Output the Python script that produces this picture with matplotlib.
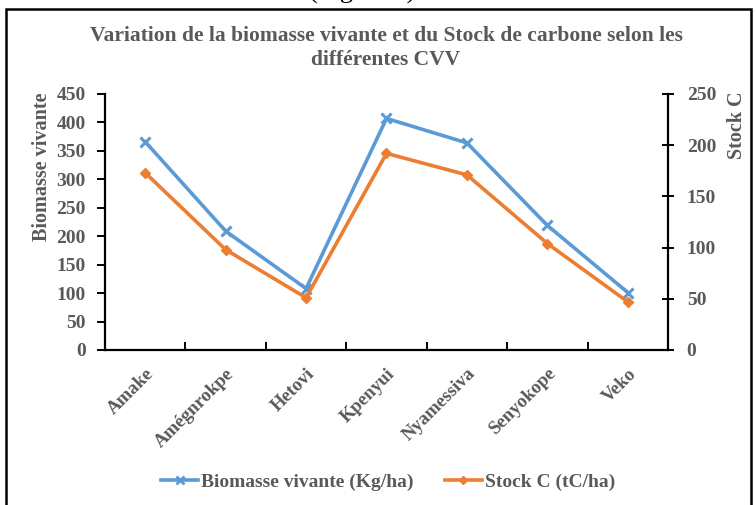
import matplotlib
matplotlib.use("Agg")
import matplotlib.pyplot as plt
from matplotlib.patches import Rectangle
from matplotlib.lines import Line2D

categories = ["Amake", "Amégnrokpe", "Hetovi", "Kpenyui", "Nyamessiva", "Senyokope", "Veko"]
biomasse = [366, 209, 108, 407, 364, 219, 101]
stock_c = [173, 98, 51, 192, 171, 104, 47]
left_ticks = [0, 50, 100, 150, 200, 250, 300, 350, 400, 450]
right_ticks = [0, 50, 100, 150, 200, 250]

plt.rcParams['font.family'] = ['Liberation Serif', 'DejaVu Serif']
plt.rcParams['font.weight'] = 'bold'
GRAY = '#595959'
BLUE = '#5B9BD5'
ORANGE = '#ED7D31'

W, H = 756, 505
fig = plt.figure(figsize=(W / 100, H / 100), dpi=100)
fig.patches.append(Rectangle((6 / W, -0.02), 745 / W, 1.02 - 9 / H, transform=fig.transFigure,
                             fill=False, edgecolor='black', linewidth=1.8))
fig.text(362 / W, 1 + 1 / H, "(Figure 2)", ha='center', va='baseline', fontsize=19,
         color='black', fontweight='normal')

ax = fig.add_axes([105 / W, 1 - 350 / H, (668 - 105) / W, (350 - 94) / H])
ax2 = ax.twinx()

x = list(range(len(categories)))
ax.plot(x, biomasse, color=BLUE, linewidth=2.6, marker='x', markersize=7, markeredgewidth=2.2,
        label="Biomasse vivante (Kg/ha)")
ax2.plot(x, stock_c, color=ORANGE, linewidth=2.6, marker='D', markersize=5,
         label="Stock C (tC/ha)")

ax.set_xlim(-0.5, len(categories) - 0.5)
ax.set_ylim(0, 450)
ax2.set_ylim(0, 250)
ax.set_yticks(left_ticks)
ax2.set_yticks(right_ticks)

ax.set_xticks([i - 0.5 for i in range(len(categories) + 1)])
ax.set_xticklabels([])
ax.set_xticks(x, minor=True)
ax.set_xticklabels(categories, minor=True, rotation=45, ha='right', rotation_mode='anchor',
                   fontsize=13.5, color=GRAY, fontweight='bold')
ax.tick_params(axis='x', which='minor', length=0, pad=11)
ax.tick_params(axis='x', which='major', direction='in', length=6, width=1.4)
ax.tick_params(axis='y', direction='out', length=6, width=1.4, labelsize=14, labelcolor=GRAY, pad=8)
ax2.tick_params(axis='y', direction='inout', length=9, width=1.4, labelsize=14, labelcolor=GRAY, pad=9)

for a in (ax, ax2):
    a.spines['top'].set_visible(False)
    for s in ('left', 'right', 'bottom'):
        a.spines[s].set_linewidth(1.6)
ax.spines['right'].set_visible(False)
ax2.spines['left'].set_visible(False)
ax2.spines['bottom'].set_visible(False)

ax.set_ylabel("Biomasse vivante", fontsize=14.5, color=GRAY, fontweight='bold')
ax.yaxis.set_label_coords((42 - 105) / 563, 1.005)
ax.yaxis.label.set_va('center')
ax.yaxis.label.set_ha('right')
ax2.set_ylabel("Stock C", fontsize=14.5, color=GRAY, fontweight='bold')
ax2.yaxis.set_label_coords((737 - 105) / 563, 1.012)
ax2.yaxis.label.set_va('center')
ax2.yaxis.label.set_ha('right')

fig.text(386 / W, 1 - 48 / H,
         "Variation de la biomasse vivante et du Stock de carbone selon les\ndifférentes CVV",
         ha='center', va='center', fontsize=15.5, color=GRAY, fontweight='bold', linespacing=1.22)

handles = [Line2D([0], [0], color=BLUE, linewidth=2.6, marker='x', markersize=6, markeredgewidth=2),
           Line2D([0], [0], color=ORANGE, linewidth=2.6, marker='D', markersize=4.5)]
fig.legend(handles, ["Biomasse vivante (Kg/ha)", "Stock C (tC/ha)"], loc='center',
           bbox_to_anchor=(388 / W, 1 - 482 / H), ncol=2, frameon=False, fontsize=14,
           labelcolor=GRAY, handlelength=1.9, handletextpad=0.15, columnspacing=1.6)

fig.savefig("out.png", dpi=100)
